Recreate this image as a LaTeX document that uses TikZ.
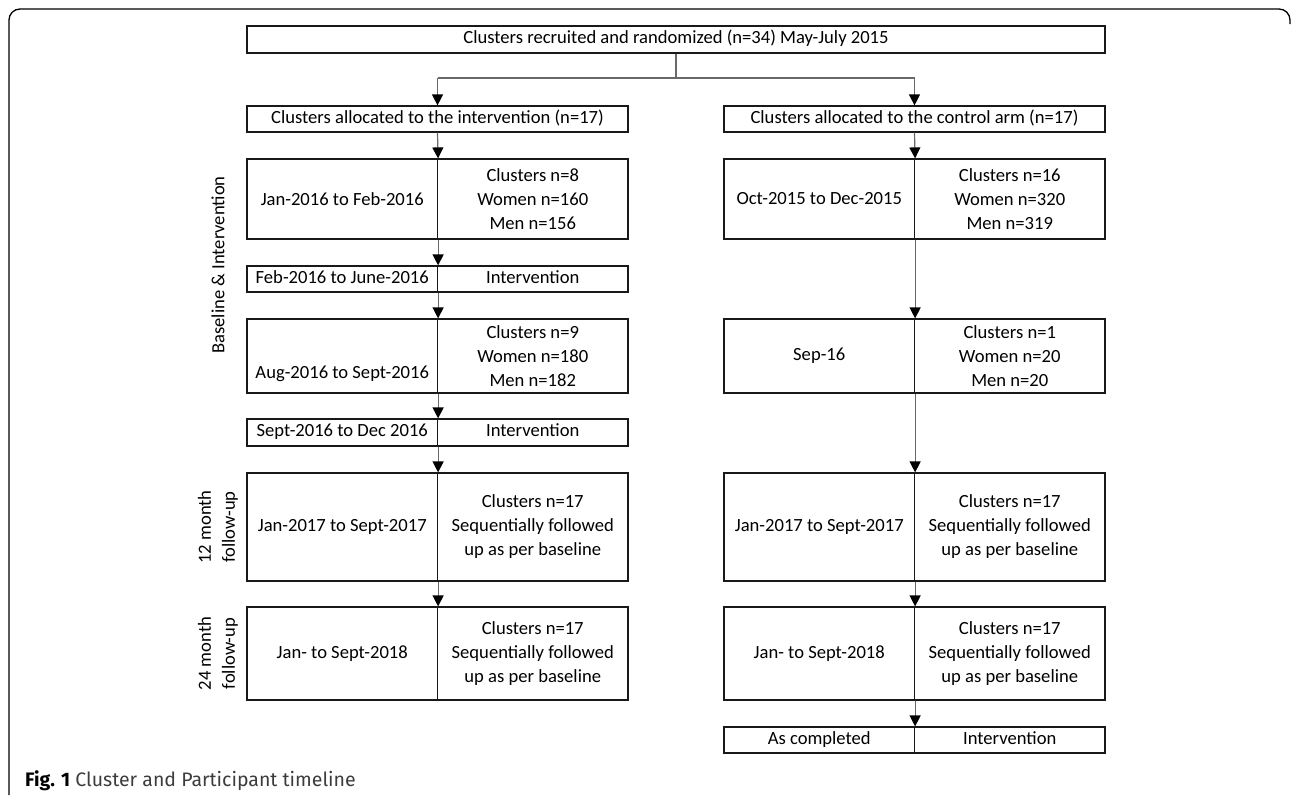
\documentclass[tikz,border=0pt]{standalone}
\usepackage{fontspec}
\setmainfont{Carlito}
\newfontfamily\capfont{Fira Sans}
\usetikzlibrary{arrows.meta}

\definecolor{linegray}{RGB}{105,105,105}
\definecolor{captext}{RGB}{60,60,60}

\tikzset{
  cell/.style={draw=black!90, line width=1.2pt, inner sep=0pt, align=center,
    font=\fontsize{18.6}{24}\selectfont},
  wide/.style={cell, minimum width=381pt},
  half/.style={cell, minimum width=190.5pt},
  oneline/.style={text height=12pt, text depth=4pt},
  flow/.style={draw=linegray, line width=1.2pt,
    -{Triangle[width=11pt,length=11pt,color=black]}},
  plain/.style={draw=linegray, line width=1.2pt},
  side/.style={rotate=90, align=center, inner sep=0pt,
    font=\fontsize{18.6}{24}\selectfont}
}

\begin{document}
\begin{tikzpicture}[x=1pt,y=-1pt]
    \useasboundingbox (0,0) rectangle (1292,795);

    % Frame.
    \draw [line width=1.3pt, rounded corners=11pt] (9,795) -- (9,9) -- (1290,9) -- (1290,24);

    % Recruitment.
    \node [cell, oneline, minimum width=858pt, minimum height=27pt] (top) at (676,39.5)
        {Clusters recruited and randomized (n=34) May-July 2015};

    % Arms.
    \node [wide, oneline, minimum height=26pt] (armL) at (437.5,119) {Clusters allocated to the intervention (n=17)};
    \node [wide, oneline, minimum height=26pt] (armR) at (914.5,119) {Clusters allocated to the control arm (n=17)};

    % Intervention arm.
    \node [half, minimum height=80pt] (b1La) at (342.25,199) {Jan-2016 to Feb-2016};
    \node [half, minimum height=80pt] (b1Lb) at (532.75,199) {Clusters n=8\\Women n=160\\Men n=156};
    \node [half, oneline, minimum height=26pt] (i1La) at (342.25,279) {Feb-2016 to June-2016};
    \node [half, oneline, minimum height=26pt] (i1Lb) at (532.75,279) {Intervention};
    \node [half, minimum height=74pt] (b2La) at (342.25,356) {\mbox{}\\\mbox{}\\Aug-2016 to Sept-2016};
    \node [half, minimum height=74pt] (b2Lb) at (532.75,356) {Clusters n=9\\Women n=180\\Men n=182};
    \node [half, oneline, minimum height=27pt] (i2La) at (342.25,432.5) {Sept-2016 to Dec 2016};
    \node [half, oneline, minimum height=27pt] (i2Lb) at (532.75,432.5) {Intervention};
    \node [half, minimum height=108pt] (f1La) at (342.25,527) {Jan-2017 to Sept-2017};
    \node [half, minimum height=108pt] (f1Lb) at (532.75,527) {Clusters n=17\\Sequentially followed\\up as per baseline};
    \node [half, minimum height=93pt] (f2La) at (342.25,653.5) {Jan- to Sept-2018};
    \node [half, minimum height=93pt] (f2Lb) at (532.75,653.5) {Clusters n=17\\Sequentially followed\\up as per baseline};

    % Control arm.
    \node [half, minimum height=80pt] (b1Ra) at (819.25,199) {Oct-2015 to Dec-2015};
    \node [half, minimum height=80pt] (b1Rb) at (1009.75,199) {Clusters n=16\\Women n=320\\Men n=319};
    \node [half, minimum height=74pt] (b2Ra) at (819.25,356) {Sep-16};
    \node [half, minimum height=74pt] (b2Rb) at (1009.75,356) {Clusters n=1\\Women n=20\\Men n=20};
    \node [half, minimum height=108pt] (f1Ra) at (819.25,527) {Jan-2017 to Sept-2017};
    \node [half, minimum height=108pt] (f1Rb) at (1009.75,527) {Clusters n=17\\Sequentially followed\\up as per baseline};
    \node [half, minimum height=93pt] (f2Ra) at (819.25,653.5) {Jan- to Sept-2018};
    \node [half, minimum height=93pt] (f2Rb) at (1009.75,653.5) {Clusters n=17\\Sequentially followed\\up as per baseline};
    \node [half, oneline, minimum height=26pt] (doneRa) at (819.25,740) {As completed};
    \node [half, oneline, minimum height=26pt] (doneRb) at (1009.75,740) {Intervention};

    % Phase labels.
    \node [side] (lblBase) at (218,265) {Baseline \& Intervention};
    \node [side] (lbl12) at (218,527) {12 month\\follow-up};
    \node [side] (lbl24) at (218,653.5) {24 month\\follow-up};

    % Fork below recruitment.
    \coordinate (fork) at (676,78);
    \coordinate (forkL) at (armL.north |- fork);
    \coordinate (forkR) at (armR.north |- fork);
    \draw [plain] (top.south) -- (fork);
    \draw [plain] (forkL) -- (forkR);
    \draw [flow] (forkL) -- (armL.north);
    \draw [flow] (forkR) -- (armR.north);

    % Arrows down the intervention arm.
    \draw [flow] (armL.south) -- (b1La.north east);
    \draw [flow] (b1La.south east) -- (i1La.north east);
    \draw [flow] (i1La.south east) -- (b2La.north east);
    \draw [flow] (b2La.south east) -- (i2La.north east);
    \draw [flow] (i2La.south east) -- (f1La.north east);
    \draw [flow] (f1La.south east) -- (f2La.north east);

    % Arrows down the control arm.
    \draw [flow] (armR.south) -- (b1Ra.north east);
    \draw [flow] (b1Ra.south east) -- (b2Ra.north east);
    \draw [flow] (b2Ra.south east) -- (f1Ra.north east);
    \draw [flow] (f1Ra.south east) -- (f2Ra.north east);
    \draw [flow] (f2Ra.south east) -- (doneRa.north east);

    % Caption.
    \node [anchor=base west, inner sep=0pt, text=captext, font=\capfont\fontsize{19.5}{23}\selectfont] (caption) at (25,786)
        {{\color{black}\textbf{Fig. 1}} Cluster and Participant timeline};

  \end{tikzpicture}
\end{document}
